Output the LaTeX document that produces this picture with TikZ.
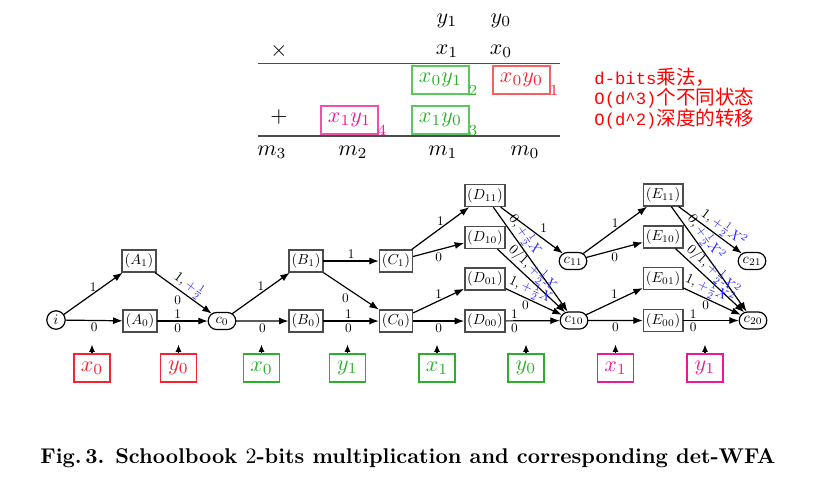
\documentclass[tikz,border=0pt]{standalone}
\usepackage{fontspec}
\newfontfamily\cjk{Noto Sans CJK SC}
\newfontfamily\monof{Liberation Mono}[Scale=0.88]
\usetikzlibrary{arrows.meta,shapes.misc}
\definecolor{rd}{RGB}{245,35,50}
\definecolor{rdl}{RGB}{250,95,95}
\definecolor{gr}{RGB}{45,175,45}
\definecolor{grl}{RGB}{90,200,90}
\definecolor{mg}{RGB}{235,25,150}
\definecolor{mgl}{RGB}{240,80,170}
\definecolor{blu}{RGB}{40,40,255}
\definecolor{cjkred}{RGB}{255,0,0}
\begin{document}
\begin{tikzpicture}[x=0.4545pt,y=0.4545pt,
  st/.style={draw=black!70,line width=0.8pt,scale=0.66,inner xsep=1.7pt,inner ysep=0pt,minimum height=15.2pt},
  cs/.style={draw=black,rounded rectangle,line width=0.55pt,scale=0.66,inner xsep=0.5pt,inner ysep=0pt,minimum width=20pt,minimum height=11.8pt},
  ist/.style={draw=black,circle,line width=0.55pt,scale=0.66,inner sep=0pt,minimum size=12.7pt},
  e/.style={-{Latex[length=4.3pt,width=3.2pt]},line width=0.55pt},
  ea/.style={-{Latex[length=3.4pt,width=2.8pt]},line width=0.55pt},
  lb/.style={scale=0.6,inner sep=1.6pt},
  bl/.style={scale=0.64,inner sep=0.6pt},
  tb/.style={draw,line width=0.5pt,minimum width=25.9pt,minimum height=12.7pt,inner sep=0pt},
  inb/.style={draw,line width=0.6pt,minimum width=16.4pt,minimum height=12.7pt,inner sep=0pt},
  sb/.style={font=\fontsize{7}{7}\selectfont,inner sep=0pt},
  cj/.style={anchor=base west,inner sep=0pt,text=cjkred,font=\fontsize{8.9}{10}\selectfont}
]
\useasboundingbox (0,0) rectangle (815,-477);

% ---- schoolbook table ----
\node (ty1) at (447,-21) {$y_1$};
\node (ty0) at (501,-21) {$y_0$};
\node (tx) at (279,-51) {$\times$};
\node (tx1) at (447,-51) {$x_1$};
\node (tx0) at (501,-51) {$x_0$};
\draw[black!70,line width=0.6pt] (258,-63.5) -- (560,-63.5);
\node[tb,draw=grl,text=gr] (p01) at (440.5,-80) {$x_0y_1$};
\node[sb,text=gr] (s2) at (473,-90) {2};
\node[tb,draw=rdl,text=rd] (p00) at (521.5,-80) {$x_0y_0$};
\node[sb,text=rd] (s1) at (554,-90) {1};
\node (tp) at (279,-117) {$+$};
\node[tb,draw=mgl,text=mg] (p11) at (349.5,-120) {$x_1y_1$};
\node[sb,text=mg] (s4) at (382,-130) {4};
\node[tb,draw=grl,text=gr] (p10) at (440.5,-120) {$x_1y_0$};
\node[sb,text=gr] (s3) at (473,-131) {3};
\draw[black!70,line width=0.6pt] (258,-136) -- (560,-136);
\node (m3) at (272,-152) {$m_3$};
\node (m2) at (353,-152) {$m_2$};
\node (m1) at (443,-152) {$m_1$};
\node (m0) at (525,-152) {$m_0$};

% ---- red note ----
\node[cj] (n1) at (594,-84) {{\monof d-bits}{\cjk 乘法，}};
\node[cj] (n2) at (594,-104.5) {{\monof O(d\textasciicircum 3)}{\cjk 个不同状态}};
\node[cj] (n3) at (594,-125) {{\monof O(d\textasciicircum 2)}{\cjk 深度的转移}};

% ---- automaton ----
\node[ist] (i) at (56,-320) {$i$};
\node[st] (A1) at (139,-261) {$(A_1)$};
\node[st] (A0) at (140,-321) {$(A_0)$};
\node[cs] (c0) at (222,-321) {$c_0$};
\node[st] (B1) at (306,-261) {$(B_1)$};
\node[st] (B0) at (306,-321) {$(B_0)$};
\node[st] (C1) at (396,-261) {$(C_1)$};
\node[st] (C0) at (396,-321) {$(C_0)$};
\node[st] (D11) at (485,-195.5) {$(D_{11})$};
\node[st] (D10) at (485,-237.5) {$(D_{10})$};
\node[st] (D01) at (485,-279) {$(D_{01})$};
\node[st] (D00) at (485,-321) {$(D_{00})$};
\node[cs] (c11) at (573,-261) {$c_{11}$};
\node[cs] (c10) at (574,-320.5) {$c_{10}$};
\node[st] (E11) at (663,-195) {$(E_{11})$};
\node[st] (E10) at (663,-237) {$(E_{10})$};
\node[st] (E01) at (663,-278.5) {$(E_{01})$};
\node[st] (E00) at (663,-320.5) {$(E_{00})$};
\node[cs] (c21) at (752,-261) {$c_{21}$};
\node[cs] (c20) at (753,-320.5) {$c_{20}$};

\draw[e] (i) -- node[lb,above]{1} (A1);
\draw[e] (i) -- node[lb,below]{0} (A0);
\draw[e] (A1) -- node[bl,sloped,above]{$1,\textcolor{blu}{+\frac{1}{2}}$} node[lb,below left]{0} (c0);
\draw[e] (A0) -- node[lb,above,pos=0.4]{1} node[lb,below,pos=0.4]{0} (c0);
\draw[e] (c0) -- node[lb,above]{1} (B1);
\draw[e] (c0) -- node[lb,below]{0} (B0);
\draw[e] (B1) -- node[lb,above]{1} (C1);
\draw[e] (B1) -- node[lb,below left]{0} (C0);
\draw[e] (B0) -- node[lb,above,pos=0.45]{1} node[lb,below,pos=0.45]{0} (C0);
\draw[e] (C1) -- node[lb,above]{1} (D11);
\draw[e] (C1) -- node[lb,below]{0} (D10);
\draw[e] (C0) -- node[lb,above]{1} (D01);
\draw[e] (C0) -- node[lb,below]{0} (D00);
\draw[e] (D11) -- node[lb,above right,pos=0.6]{1} (c11);
\draw[e] (D11) -- node[bl,sloped,above,pos=0.32]{$0,\textcolor{blu}{+\frac{1}{2}X}$} (c10);
\draw[e] (D10) -- node[bl,sloped,above,pos=0.42]{$0/1,\textcolor{blu}{+\frac{1}{2}X}$} (c10);
\draw[e] (D01) -- node[bl,sloped,above,pos=0.37]{$1,\textcolor{blu}{+\frac{1}{2}X}$} node[lb,below,pos=0.35]{0} (c10);
\draw[e] (D00) -- node[lb,above,pos=0.16]{1} node[lb,below,pos=0.16]{0} (c10);
\draw[e] (c11) -- node[lb,above]{1} (E11);
\draw[e] (c11) -- node[lb,below]{0} (E10);
\draw[e] (c10) -- node[lb,above]{1} (E01);
\draw[e] (c10) -- node[lb,below]{0} (E00);
\draw[e] (E11) -- node[bl,sloped,above,pos=0.62]{$1,\textcolor{blu}{+\frac{1}{2}X^2}$} (c21);
\draw[e] (E11) -- node[bl,sloped,above,pos=0.35]{$0,\textcolor{blu}{+\frac{1}{2}X^2}$} (c20);
\draw[e] (E10) -- node[bl,sloped,above,pos=0.45]{$0/1,\textcolor{blu}{+\frac{1}{2}X^2}$} (c20);
\draw[e] (E01) -- node[bl,sloped,above,pos=0.39]{$1,\textcolor{blu}{+\frac{1}{2}X^2}$} node[lb,below,pos=0.39]{0} (c20);
\draw[e] (E00) -- node[lb,above,pos=0.18]{1} node[lb,below,pos=0.18]{0} (c20);

% ---- inputs ----
\node[inb,draw=rd,text=rd] (in1) at (92,-368) {$x_0$};
\node[inb,draw=rd,text=rd] (in2) at (178.5,-368) {$y_0$};
\node[inb,draw=gr,text=gr] (in3) at (261.5,-368) {$x_0$};
\node[inb,draw=gr,text=gr] (in4) at (347.5,-368) {$y_1$};
\node[inb,draw=gr,text=gr] (in5) at (437,-368) {$x_1$};
\node[inb,draw=gr,text=gr] (in6) at (526,-368) {$y_0$};
\node[inb,draw=mg,text=mg] (in7) at (615.5,-368) {$x_1$};
\node[inb,draw=mg,text=mg] (in8) at (705,-368) {$y_1$};
\foreach \k/\xx in {1/92,2/178.5,3/261.5,4/347.5,5/437,6/526,7/615.5,8/705}{
  \coordinate (t\k) at (\xx,-344.5);
  \draw[ea] (in\k.north) -- (t\k);
}

% ---- caption ----
\node[anchor=base west,inner sep=0pt,font=\bfseries\fontsize{9.7}{11}\selectfont] (cap) at (40,-463)
  {Fig.\,3. Schoolbook $2$-bits multiplication and corresponding det-WFA};
\end{tikzpicture}
\end{document}
